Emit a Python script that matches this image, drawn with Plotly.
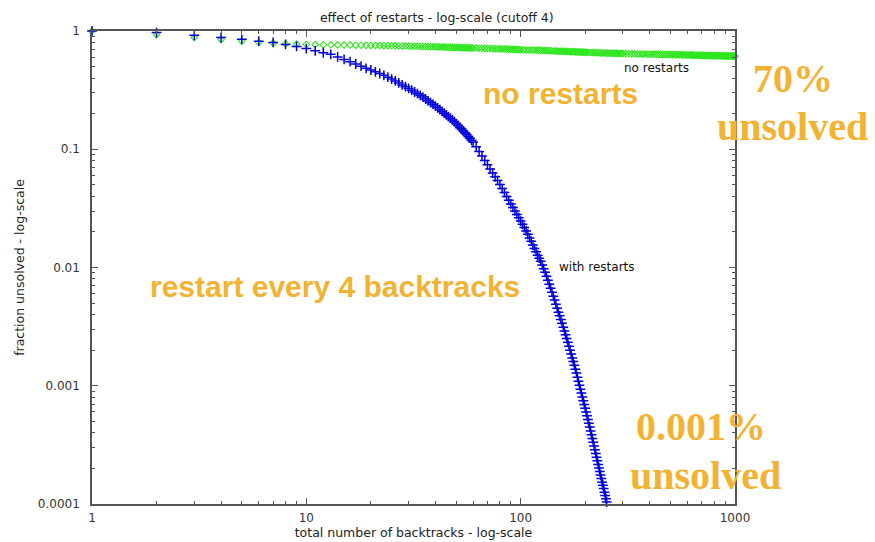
import plotly.graph_objects as go

# ---- data ----
with_restarts_x = list(range(1, 61)) + list(range(62, 253, 2))
with_restarts_y = [
    # 1 .. 60
    1.0, 0.97, 0.92, 0.88, 0.85, 0.82, 0.80, 0.77, 0.74, 0.71,
    0.68, 0.655, 0.635, 0.604, 0.575, 0.550, 0.526, 0.504, 0.483, 0.468,
    0.452, 0.437, 0.422, 0.407, 0.392, 0.378, 0.364, 0.350, 0.338, 0.327,
    0.316, 0.305, 0.295, 0.286, 0.276, 0.266, 0.257, 0.248, 0.240, 0.232,
    0.224, 0.216, 0.209, 0.202, 0.195, 0.189, 0.183, 0.177, 0.171, 0.165,
    0.159, 0.153, 0.148, 0.143, 0.138, 0.133, 0.128, 0.124, 0.119, 0.115,
    # 62 .. 100 step 2
    0.105, 0.0957, 0.0875, 0.0804, 0.0740, 0.0682, 0.0630, 0.0585, 0.0545, 0.0503,
    0.0465, 0.0430, 0.0399, 0.0370, 0.0345, 0.0322, 0.0301, 0.0281, 0.0264, 0.0247,
    # 102 .. 140 step 2
    0.0232, 0.0218, 0.0204, 0.0191, 0.0178, 0.0167, 0.0155, 0.0145, 0.0136, 0.0127,
    0.0120, 0.0113, 0.0105, 0.00978, 0.00910, 0.00843, 0.00780, 0.00722, 0.00668, 0.00618,
    # 142 .. 180 step 2
    0.00572, 0.00530, 0.00490, 0.00452, 0.00419, 0.00390, 0.00363, 0.00337, 0.00313, 0.00291,
    0.00270, 0.00251, 0.00233, 0.00216, 0.00200, 0.00186, 0.00172, 0.00160, 0.00149, 0.00138,
    # 182 .. 220 step 2
    0.00128, 0.00118, 0.00109, 0.00101, 0.000933, 0.000867, 0.000805, 0.000748, 0.000695, 0.000646,
    0.000600, 0.000557, 0.000518, 0.000481, 0.000447, 0.000415, 0.000385, 0.000358, 0.000333, 0.000309,
    # 222 .. 252 step 2
    0.000287, 0.000267, 0.000248, 0.000232, 0.000216, 0.000202, 0.000188, 0.000176, 0.000164, 0.000153,
    0.000144, 0.000135, 0.000126, 0.000118, 0.000111, 0.000104,
]

no_restarts_x = (list(range(1, 61)) + list(range(62, 101, 2)) + list(range(103, 203, 3))
                 + list(range(205, 301, 5)) + list(range(310, 1001, 10)))
no_restarts_y = [
    # 1 .. 60
    1.0, 0.93, 0.88, 0.845, 0.82, 0.80, 0.79, 0.78, 0.775, 0.77,
    0.768, 0.766, 0.764, 0.763, 0.761, 0.76, 0.759, 0.758, 0.756, 0.755,
    0.754, 0.753, 0.752, 0.751, 0.750, 0.749, 0.748, 0.747, 0.746, 0.745,
    0.744, 0.743, 0.742, 0.741, 0.740, 0.739, 0.738, 0.737, 0.736, 0.735,
    0.734, 0.733, 0.732, 0.731, 0.730, 0.729, 0.728, 0.727, 0.726, 0.725,
    0.725, 0.724, 0.723, 0.722, 0.722, 0.721, 0.720, 0.719, 0.719, 0.718,
    # 62 .. 100 step 2
    0.717, 0.715, 0.714, 0.713, 0.711, 0.710, 0.709, 0.708, 0.707, 0.706,
    0.705, 0.704, 0.703, 0.702, 0.700, 0.699, 0.698, 0.697, 0.696, 0.695,
    # 103 .. 202 step 3
    0.694, 0.692, 0.691, 0.690, 0.689, 0.688, 0.687, 0.686, 0.684, 0.683,
    0.682, 0.681, 0.680, 0.678, 0.677, 0.676, 0.675, 0.674, 0.673, 0.672,
    0.671, 0.670, 0.669, 0.668, 0.668, 0.667, 0.666, 0.665, 0.664, 0.663,
    0.663, 0.662, 0.661, 0.660,
    # 205 .. 300 step 5
    0.659, 0.658, 0.657, 0.656, 0.655, 0.654, 0.653, 0.652, 0.652, 0.651,
    0.650, 0.649, 0.649, 0.648, 0.647, 0.647, 0.646, 0.646, 0.645, 0.645,
    # 310 .. 1000 step 10
    0.644, 0.643, 0.642, 0.641, 0.640, 0.640, 0.639, 0.638, 0.637, 0.637,
    0.636, 0.635, 0.635, 0.634, 0.634, 0.633, 0.633, 0.632, 0.632, 0.632,
    0.631, 0.631, 0.630, 0.630, 0.629, 0.629, 0.628, 0.628, 0.627, 0.627,
    0.626, 0.626, 0.625, 0.625, 0.624, 0.624, 0.623, 0.623, 0.622, 0.622,
    0.622, 0.621, 0.621, 0.620, 0.620, 0.620, 0.619, 0.619, 0.619, 0.618,
    0.618, 0.618, 0.617, 0.617, 0.617, 0.616, 0.616, 0.616, 0.616, 0.615,
    0.615, 0.615, 0.615, 0.614, 0.614, 0.614, 0.614, 0.613, 0.613, 0.613,
]

x_tick_vals = [1, 10, 100, 1000]
x_tick_text = ["1", "10", "100", "1000"]
y_tick_vals = [0.0001, 0.001, 0.01, 0.1, 1]
y_tick_text = ["0.0001", "0.001", "0.01", "0.1", "1"]
x_minor = [m * d for d in (1, 10, 100) for m in range(2, 10)]
y_minor = [m * d for d in (0.0001, 0.001, 0.01, 0.1) for m in range(2, 10)]

title_text = "effect of restarts - log-scale (cutoff 4)"
x_title = "total number of backtracks - log-scale"
y_title = "fraction unsolved - log-scale"

W, H = 875, 542
L, R, T, B = 92, 735, 31, 504


def px(x):
    return (x - L) / (R - L)


def py(y):
    return (B - y) / (B - T)


AXC = "#555555"
ORANGE = "#F2B232"

fig = go.Figure()
fig.add_trace(go.Scatter(
    x=no_restarts_x, y=no_restarts_y, mode="markers", name="no restarts",
    marker=dict(symbol="diamond-open", size=5, color="#2EE61E", line=dict(width=1.1)),
    cliponaxis=False,
))
fig.add_trace(go.Scatter(
    x=with_restarts_x, y=with_restarts_y, mode="markers", name="with restarts",
    marker=dict(symbol="cross-thin", size=7, color="#0000DD", line=dict(width=1.5, color="#0000DD")),
    cliponaxis=False,
))

axis_common = dict(
    type="log", showline=True, linecolor=AXC, linewidth=1.5, mirror="allticks",
    ticks="inside", ticklen=6, tickwidth=1.2, tickcolor=AXC, showgrid=False, zeroline=False,
    tickfont=dict(family="DejaVu Sans", size=12, color="#333333"),
    tickmode="array", automargin=False,
)

fig.update_layout(
    width=W, height=H,
    margin=dict(l=L, r=W - R, t=T, b=H - B, autoexpand=False),
    paper_bgcolor="white", plot_bgcolor="white",
    showlegend=False,
    title=dict(text=title_text, x=px(413), xanchor="center", y=1 - 18 / H, yanchor="middle",
               automargin=False,
               font=dict(family="DejaVu Sans", size=12.5, color="#222222")),
    xaxis=dict(axis_common, range=[0, 3], tickvals=x_tick_vals, ticktext=x_tick_text,
               ticklabelstandoff=2,
               minor=dict(tickmode="array", tickvals=x_minor, ticks="inside", ticklen=3,
                          tickcolor=AXC, tickwidth=1),
               title=dict(text=x_title, standoff=4,
                          font=dict(family="DejaVu Sans", size=12.5, color="#222222"))),
    yaxis=dict(axis_common, range=[-4, 0], tickvals=y_tick_vals, ticktext=y_tick_text,
               ticklabelstandoff=8,
               minor=dict(tickmode="array", tickvals=y_minor, ticks="inside", ticklen=3,
                          tickcolor=AXC, tickwidth=1),
               title=dict(text=y_title, standoff=10,
                          font=dict(family="DejaVu Sans", size=12.5, color="#222222"))),
)

annots = [
    ("no restarts", 656, 68, "DejaVu Sans", 12, "#111111"),
    ("with restarts", 597, 267, "DejaVu Sans", 12, "#111111"),
    ("<b>no restarts</b>", 560, 93, "Liberation Sans", 30, ORANGE),
    ("<b>restart every 4 backtracks</b>", 335, 286, "Liberation Sans", 30, ORANGE),
    ("<b>70%</b>", 793, 78, "Liberation Serif", 40, ORANGE),
    ("<b>unsolved</b>", 792, 127, "Liberation Serif", 40, ORANGE),
    ("<b>0.001%</b>", 701, 426, "Liberation Serif", 40, ORANGE),
    ("<b>unsolved</b>", 705, 475, "Liberation Serif", 40, ORANGE),
]
for text, ax, ay, fam, size, col in annots:
    fig.add_annotation(text=text, x=px(ax), y=py(ay), xref="paper", yref="paper",
                       xanchor="center", yanchor="middle", showarrow=False,
                       font=dict(family=fam, size=size, color=col))

fig.write_html("out.html", config={"displayModeBar": False},
               post_script="document.body.style.margin='0';document.body.style.padding='0';")
